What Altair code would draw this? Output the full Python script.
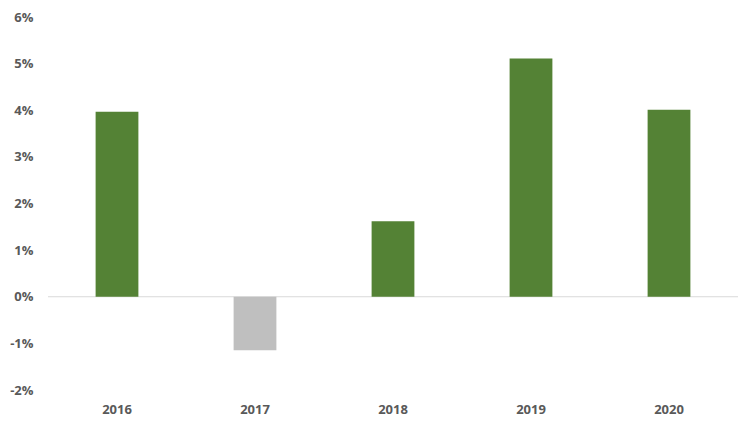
import altair as alt
import pandas as pd

years = ["2016", "2017", "2018", "2019", "2020"]
values = [0.0397, -0.0115, 0.0162, 0.0511, 0.0401]
colors = ["#548235", "#BFBFBF", "#548235", "#548235", "#548235"]
tick_values = [-0.02, -0.01, 0, 0.01, 0.02, 0.03, 0.04, 0.05, 0.06]

df = pd.DataFrame({"year": years, "value": values, "color": colors})

font = "Open Sans"
label_color = "#595959"

y_axis = alt.Axis(values=tick_values,
                  labelExpr="(datum.value < -0.0001 ? '-' : '') + format(abs(datum.value) * 100, '.0f') + '%'",
                  domain=False, ticks=False, grid=False, labelPadding=15,
                  labelFontSize=13, labelFontWeight="bold", labelColor=label_color,
                  labelFont=font)
y_scale = alt.Scale(domain=[-0.02, 0.06], nice=False)

bars = alt.Chart(df).mark_bar().encode(
    x=alt.X("year:N", sort=years, title=None,
            scale=alt.Scale(paddingInner=0.69, paddingOuter=0.345),
            axis=alt.Axis(labelAngle=0, domain=False, ticks=False, labelPadding=13,
                          labelFontSize=13, labelFontWeight="bold", labelColor=label_color,
                          labelFont=font)),
    y=alt.Y("value:Q", title=None, scale=y_scale, axis=y_axis),
    color=alt.Color("color:N", scale=None),
)

zero = alt.Chart(pd.DataFrame({"z": [0]})).mark_rule(color="#D9D9D9", strokeWidth=1).encode(
    y=alt.Y("z:Q", title=None, scale=y_scale, axis=y_axis)
)

chart = alt.layer(zero, bars).properties(
    width=690, height=373,
    autosize=alt.AutoSizeParams(type="none"),
    padding={"left": 40, "top": 9, "right": 0, "bottom": 30},
).configure(background="white").configure_view(stroke=None)

chart.save("out.html", embed_options={"renderer": "svg", "actions": False})
